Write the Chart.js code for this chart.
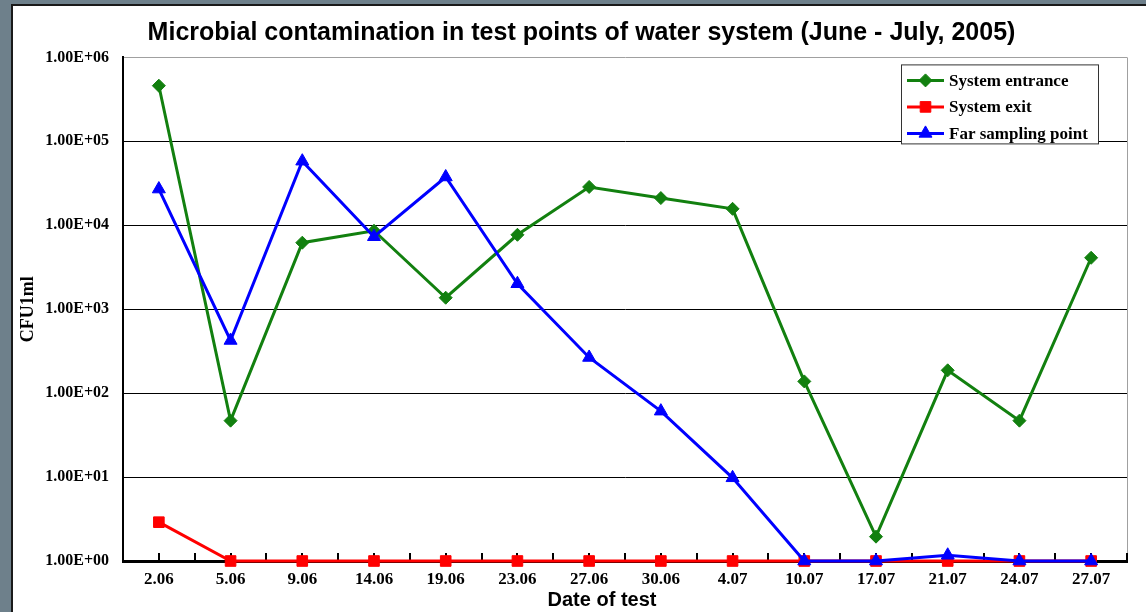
<!DOCTYPE html>
<html><head><meta charset="utf-8">
<script src="https://cdn.jsdelivr.net/npm/chart.js@4.4.1/dist/chart.umd.min.js"></script>
<style>html,body{margin:0;padding:0;background:#6e808b;overflow:hidden}canvas{display:block}</style>
</head><body>
<canvas id="c" width="1146" height="612"></canvas>
<script>
const categories = ['2.06','5.06','9.06','14.06','19.06','23.06','27.06','30.06','4.07','10.07','17.07','21.07','24.07','27.07'];
const systemEntrance = [460000, 47, 6200, 8600, 1370, 7700, 28600, 21100, 15700, 138, 1.95, 187, 47, 4100];
const systemExit = [2.9, 1, 1, 1, 1, 1, 1, 1, 1, 1, 1, 1, 1, 1];
const farSamplingPoint = [27000, 424, 58000, 7300, 37600, 2010, 266, 61, 9.8, 1, 1, 1.17, 1, 1];
const yTickValues = [1, 10, 100, 1000, 10000, 100000, 1000000];
const yTickLabels = ['1.00E+00','1.00E+01','1.00E+02','1.00E+03','1.00E+04','1.00E+05','1.00E+06'];
const seriesNames = ['System entrance', 'System exit', 'Far sampling point'];
const xAxisTitle = 'Date of test';

const pageFrame = {
  id: 'pageFrame',
  beforeDraw(chart) {
    const ctx = chart.ctx;
    ctx.save();
    ctx.fillStyle = '#6e808b';
    ctx.fillRect(0, 0, chart.width, chart.height);
    ctx.fillStyle = '#ffffff';
    ctx.fillRect(12, 4, chart.width - 12, chart.height - 4);
    ctx.strokeStyle = '#1a1a1a';
    ctx.lineWidth = 2;
    ctx.beginPath();
    ctx.moveTo(12, chart.height); ctx.lineTo(12, 5); ctx.lineTo(chart.width, 5);
    ctx.stroke();
    ctx.restore();
  },
  beforeDatasetsDraw(chart) {
    const ctx = chart.ctx, a = chart.chartArea, x = chart.scales.x;
    ctx.save();
    ctx.strokeStyle = '#a0a0a0'; ctx.lineWidth = 1;
    ctx.beginPath(); ctx.moveTo(a.right + 0.5, a.top); ctx.lineTo(a.right + 0.5, a.bottom); ctx.stroke();
    ctx.strokeStyle = '#000'; ctx.lineWidth = 2;
    ctx.beginPath();
    const half = (x.getPixelForValue(1) - x.getPixelForValue(0)) / 2;
    for (let i = 0; i < categories.length; i++) {
      const p = x.getPixelForValue(i);
      [p - half, p].forEach(px => { ctx.moveTo(Math.round(px), a.bottom); ctx.lineTo(Math.round(px), a.bottom - 8); });
    }
    ctx.moveTo(a.right, a.bottom); ctx.lineTo(a.right, a.bottom - 8);
    ctx.stroke();
    ctx.restore();
  },
  afterDraw(chart) {
    const ctx = chart.ctx, a = chart.chartArea;
    ctx.save();
    ctx.fillStyle = '#000';
    ctx.font = 'bold 20px "Liberation Sans"';
    ctx.textAlign = 'center';
    ctx.textBaseline = 'middle';
    ctx.fillText(xAxisTitle, (a.left + a.right) / 2 - 23, 600);
    const bx = a.right - 226, by = a.top + 7, bw = 197, bh = 79;
    ctx.fillStyle = '#fff';
    ctx.fillRect(bx, by, bw, bh);
    ctx.strokeStyle = '#333'; ctx.lineWidth = 1;
    ctx.strokeRect(bx + 0.5, by + 0.5, bw, bh);
    ctx.font = 'bold 17px "Liberation Serif"';
    ctx.textAlign = 'left';
    ctx.textBaseline = 'middle';
    chart.data.datasets.forEach((ds, r) => {
      const cy = by + 16 + r * 26.5;
      ctx.strokeStyle = ds.borderColor; ctx.lineWidth = 3;
      ctx.beginPath(); ctx.moveTo(bx + 6, cy); ctx.lineTo(bx + 43, cy); ctx.stroke();
      ctx.fillStyle = ds.borderColor;
      ctx.strokeStyle = ds.borderColor; ctx.lineWidth = 1;
      Chart.helpers.drawPoint(ctx, {pointStyle: ds.pointStyle, radius: ds.pointRadius, borderWidth: 1}, bx + 24.5, cy);
      ctx.fillStyle = '#000';
      ctx.fillText(ds.label, bx + 48, cy + 1);
    });
    ctx.restore();
  }
};

function mkDs(label, data, color, style, r, order) {
  return { label, data, borderColor: color, backgroundColor: color, pointBackgroundColor: color, pointBorderColor: color,
    borderWidth: 3, pointStyle: style, pointRadius: r, pointBorderWidth: 1, tension: 0, clip: false, order };
}

new Chart(document.getElementById('c'), {
  type: 'line',
  data: {
    labels: categories,
    datasets: [
      mkDs(seriesNames[0], systemEntrance, '#12800f', 'rectRot', 6.5, 2),
      mkDs(seriesNames[1], systemExit, '#ff0000', 'rect', 7.5, 1),
      mkDs(seriesNames[2], farSamplingPoint, '#0000ff', 'triangle', 7.5, 0)
    ]
  },
  options: {
    responsive: false,
    animation: false,
    devicePixelRatio: 1,
    layout: { padding: { left: 36, right: 19, top: 4, bottom: 0 } },
    plugins: {
      legend: { display: false },
      tooltip: { enabled: false },
      title: {
        display: true,
        text: 'Microbial contamination in test points of water system (June - July, 2005)',
        color: '#000',
        font: { family: '"Liberation Sans"', size: 25, weight: 'bold' },
        padding: { top: 14, bottom: 9.4 }
      }
    },
    scales: {
      x: {
        type: 'category',
        offset: true,
        grid: { display: false },
        border: { display: true, color: '#000', width: 3 },
        ticks: { color: '#000', font: { family: '"Liberation Serif"', size: 17, weight: 'bold' }, padding: 0, maxRotation: 0, autoSkip: false },
        afterFit(s) { s.height = 51; }
      },
      y: {
        type: 'logarithmic',
        min: 1,
        max: 1000000,
        afterBuildTicks(s) { s.ticks = yTickValues.map(v => ({ value: v })); },
        grid: {
          drawTicks: false,
          color: c => (c.tick && c.tick.value === 1000000) ? '#a0a0a0' : '#000',
          lineWidth: 1
        },
        border: { display: true, color: '#000', width: 2 },
        ticks: {
          color: '#000',
          padding: 14,
          font: { family: '"Liberation Serif"', size: 16, weight: 'bold' },
          callback: (v) => { const i = yTickValues.indexOf(v); return i >= 0 ? yTickLabels[i] : ''; }
        },
        title: { display: true, text: 'CFU1ml', color: '#000', font: { family: '"Liberation Serif"', size: 18, weight: 'bold' }, padding: { top: -18, bottom: 0 } },
        afterFit(s) { s.width = 87; }
      }
    }
  },
  plugins: [pageFrame]
});
</script>
</body></html>
